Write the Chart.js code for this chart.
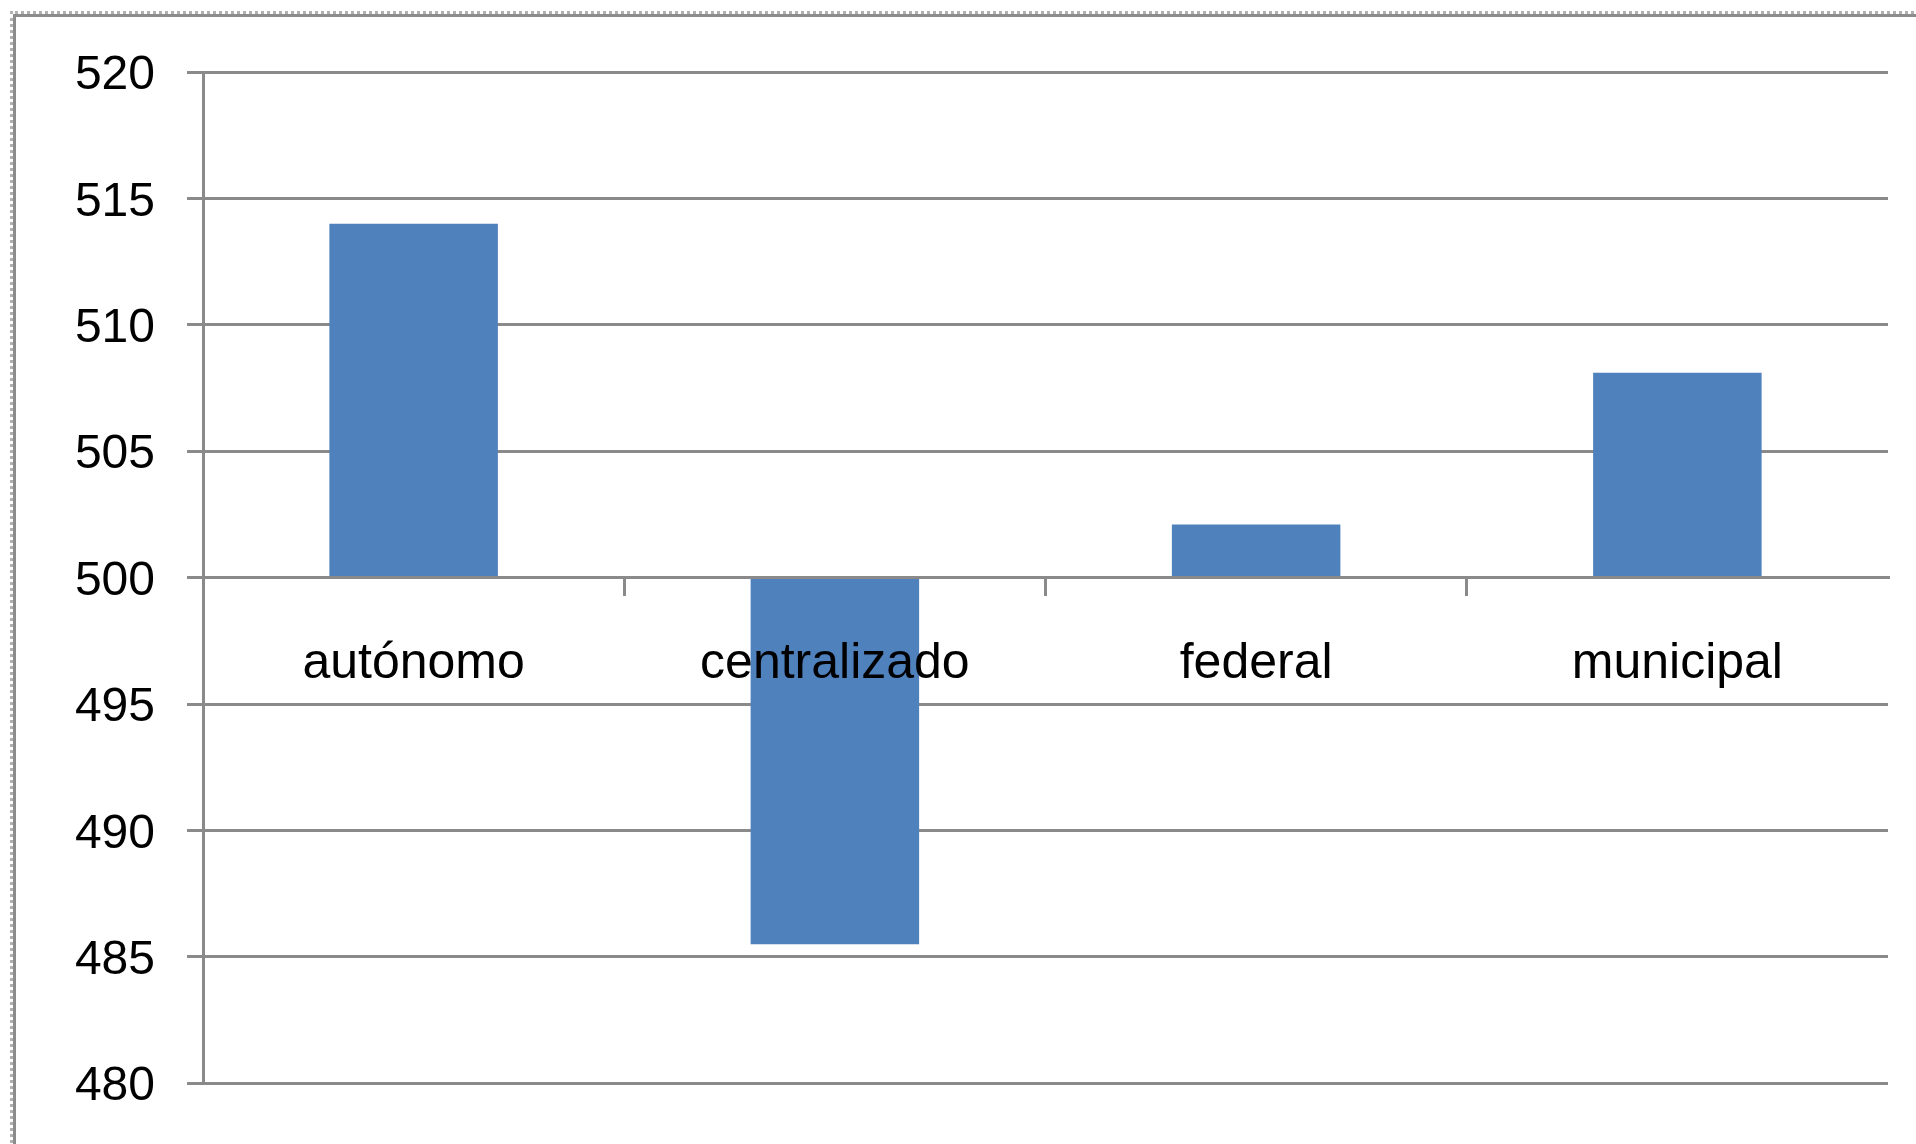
<!DOCTYPE html>
<html>
<head>
<meta charset="utf-8">
<script src="https://cdn.jsdelivr.net/npm/chart.js@4/dist/chart.umd.min.js"></script>
<style>
  html, body { margin: 0; padding: 0; background: #fff; overflow: hidden; }
  #wrap { position: absolute; left: 0; top: 0; width: 1916px; height: 1144px; }
  #marco {
    position: absolute; left: 13px; top: 14px; width: 2000px; height: 1300px;
    border: 3px solid #8c8c8c; outline: 3px dotted #b0b0b0; outline-offset: 0px;
    pointer-events: none;
  }
</style>
</head>
<body>
<div id="wrap">
  <canvas id="chart" width="1916" height="1144"></canvas>
  <div id="marco"></div>
</div>
<script>
// Datos (barras que parten de 500)
const categorias = ["autónomo", "centralizado", "federal", "municipal"];
const valores = [514.0, 485.5, 502.1, 508.1];
const base = 500;
const ejeMin = 480;
const ejeMax = 520;
const paso = 5;

const gris = "#8a8a8a";
const fuenteY = { family: "'Liberation Sans', Arial, sans-serif", size: 48 };
const fuenteX = { family: "'Liberation Sans', Arial, sans-serif", size: 50 };

document.addEventListener("DOMContentLoaded", function () {
  const ctx = document.getElementById("chart").getContext("2d");

  new Chart(ctx, {
    type: "bar",
    data: {
      labels: categorias,
      datasets: [{
        data: valores.map(v => [base, v]),
        backgroundColor: "#4F81BD",
        borderWidth: 0,
        barPercentage: 0.4,
        categoryPercentage: 1.0
      }]
    },
    options: {
      responsive: false,
      animation: false,
      layout: { padding: { top: 72, right: 28, bottom: 59, left: 0 } },
      plugins: { legend: { display: false }, tooltip: { enabled: false } },
      scales: {
        x: {
          position: { y: base },
          grid: {
            offset: true, drawOnChartArea: false, drawTicks: true, tickLength: 17, lineWidth: 3,
            // sin marca en los extremos (la última línea no tiene índice de tick)
            tickColor: (c) => (c.index === undefined || c.index === 0) ? "rgba(0,0,0,0)" : gris
          },
          border: { color: gris, width: 3, z: 1 },
          // z: 1 -> etiquetas por encima de las barras
          ticks: { color: "#000", font: fuenteX, padding: 40, maxRotation: 0, z: 1 }
        },
        y: {
          min: ejeMin,
          max: ejeMax,
          afterFit: function (scale) { scale.width = 203; },
          ticks: { stepSize: paso, color: "#000", font: fuenteY, padding: 32, labelOffset: 4 },
          grid: { color: gris, lineWidth: 3, tickLength: 16 },
          border: { color: gris, width: 3 }
        }
      }
    }
  });
});
</script>
</body>
</html>
